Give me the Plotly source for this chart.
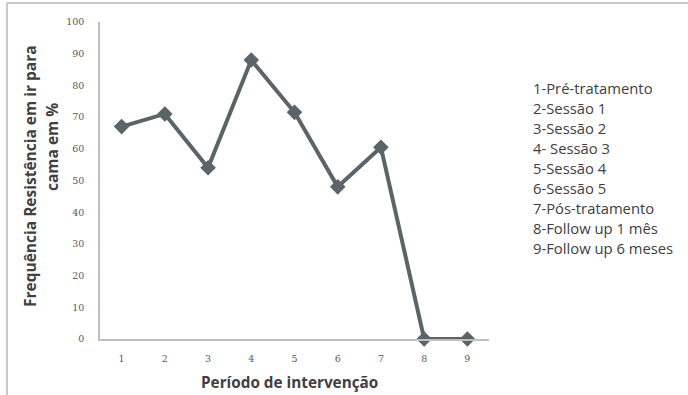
import plotly.graph_objects as go

periods = ["1", "2", "3", "4", "5", "6", "7", "8", "9"]
frequency = [67, 71, 54, 88, 71.5, 48, 60.5, 0, 0]
y_ticks = [0, 10, 20, 30, 40, 50, 60, 70, 80, 90, 100]
legend_labels = ["1-Pré-tratamento", "2-Sessão 1", "3-Sessão 2", "4- Sessão 3",
                 "5-Sessão 4", "6-Sessão 5", "7-Pós-tratamento",
                 "8-Follow up 1 mês", "9-Follow up 6 meses"]
y_title_lines = ["Frequência Resistência em ir para", "cama em %"]
x_title = "Período de intervenção"

W, H = 688, 395
ml, mr, mt, mb = 100, 199, 22, 56
pw, ph = W - ml - mr, H - mt - mb

def px_x(x):
    return (x - ml) / pw

def px_y(y):
    return (H - mb - y) / ph

fig = go.Figure()
fig.add_trace(go.Scatter(
    x=periods, y=frequency, mode="lines+markers",
    line=dict(color="#5b6569", width=4),
    marker=dict(symbol="diamond", size=12, color="#5b6569"),
    showlegend=False, cliponaxis=False, hoverinfo="skip",
))

annotations = []
for i, lab in enumerate(legend_labels):
    annotations.append(dict(
        text=lab, xref="paper", yref="paper", x=px_x(531), y=px_y(88 + 20 * i),
        xanchor="left", yanchor="middle", showarrow=False,
        font=dict(family="Open Sans", size=14.8, color="#404040"),
    ))
annotations.append(dict(
    text="<b>" + y_title_lines[0] + "</b>", xref="paper", yref="paper",
    x=px_x(30), y=px_y(176), xanchor="center", yanchor="middle",
    showarrow=False, textangle=-90,
    font=dict(family="Open Sans", size=15.5, color="#404040"),
))
annotations.append(dict(
    text="<b>" + y_title_lines[1] + "</b>", xref="paper", yref="paper",
    x=px_x(52), y=px_y(147), xanchor="center", yanchor="middle",
    showarrow=False, textangle=-90,
    font=dict(family="Open Sans", size=15.5, color="#404040"),
))
annotations.append(dict(
    text="<b>" + x_title + "</b>", xref="paper", yref="paper",
    x=px_x(289), y=px_y(382), xanchor="center", yanchor="middle", showarrow=False,
    font=dict(family="Open Sans", size=15.3, color="#404040"),
))

shapes = [
    dict(type="line", xref="paper", yref="paper", x0=px_x(7), x1=px_x(7),
         y0=px_y(3), y1=px_y(395), line=dict(color="#c8c8c8", width=2)),
    dict(type="line", xref="paper", yref="paper", x0=px_x(7), x1=px_x(688),
         y0=px_y(3), y1=px_y(3), line=dict(color="#c8c8c8", width=2)),
]

fig.update_layout(
    width=W, height=H,
    margin=dict(l=ml, r=mr, t=mt, b=mb),
    paper_bgcolor="white", plot_bgcolor="white",
    annotations=annotations, shapes=shapes,
    xaxis=dict(type="category", showgrid=False, showline=True, linecolor="#bfbfbf",
               linewidth=1.5, ticks="", tickfont=dict(family="DejaVu Serif", size=9.5, color="#595959"),
               ticklabelstandoff=10, range=[-0.5, 8.5], fixedrange=True),
    yaxis=dict(range=[0, 100], tickvals=y_ticks, showgrid=False, showline=True,
               linecolor="#bfbfbf", linewidth=1.5, ticks="", zeroline=False,
               tickfont=dict(family="DejaVu Serif", size=9.5, color="#595959"),
               ticklabelstandoff=12, fixedrange=True),
)

fig.write_html("out.html", config={"displayModeBar": False},
               post_script="document.body.style.margin='0';")
